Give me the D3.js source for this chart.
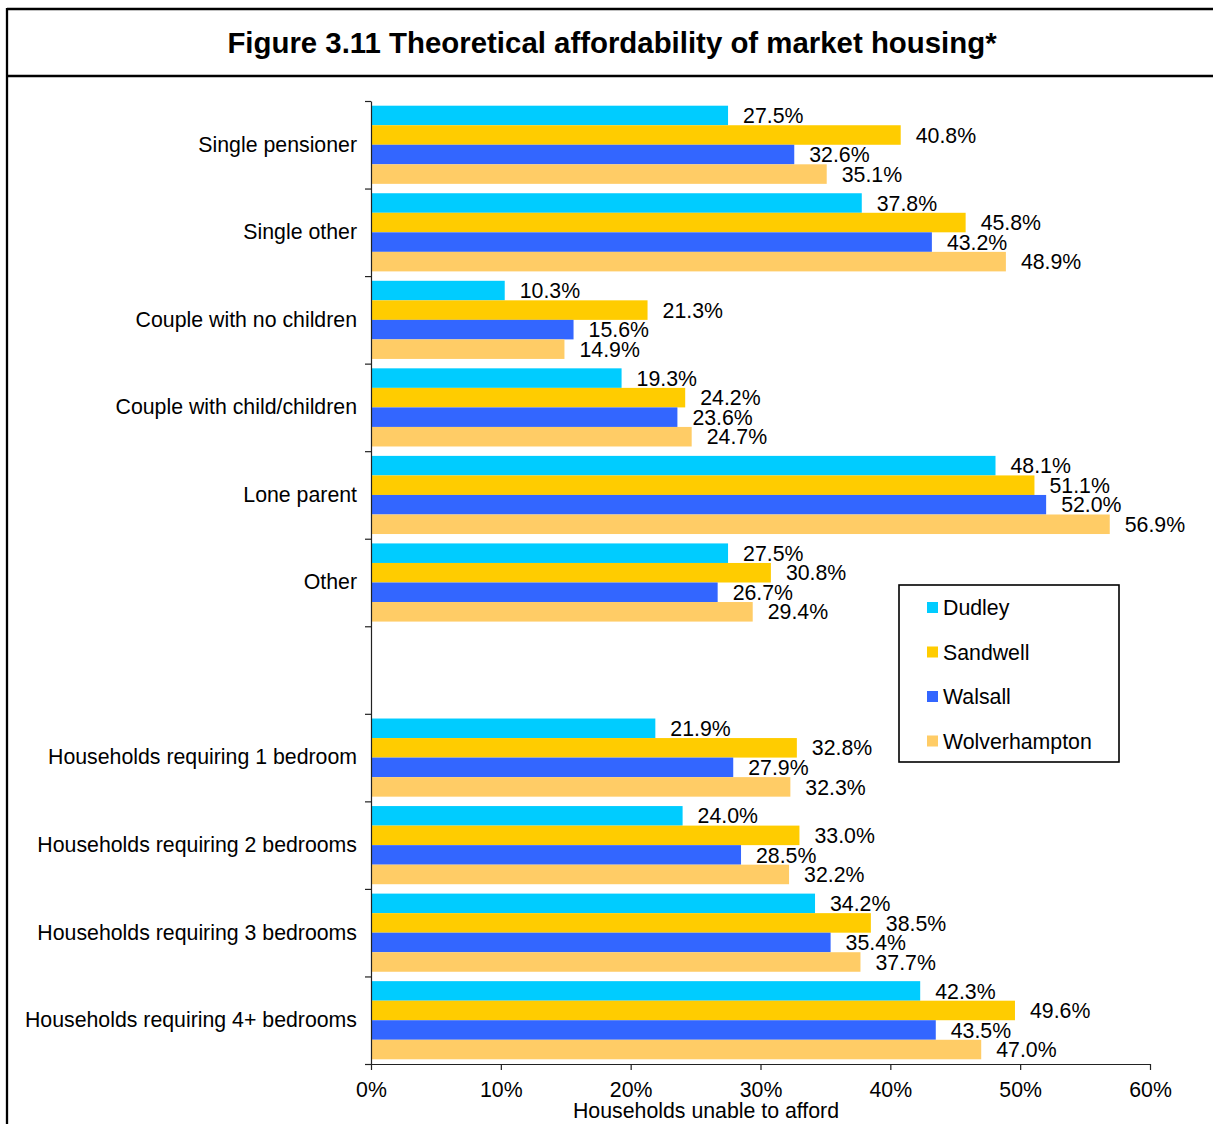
<!DOCTYPE html>
<html>
<head>
<meta charset="utf-8">
<script src="https://cdn.jsdelivr.net/npm/d3@7"></script>
<style>
  html, body { margin: 0; padding: 0; background: #fff; }
  svg { display: block; }
  text { font-family: Arial, "Liberation Sans", sans-serif; fill: #000; }
</style>
</head>
<body>
<svg id="chart" width="1213" height="1124"></svg>
<script>
const title = "Figure 3.11 Theoretical affordability of market housing*";
const categories = ["Single pensioner","Single other","Couple with no children","Couple with child/children","Lone parent","Other","","Households requiring 1 bedroom","Households requiring 2 bedrooms","Households requiring 3 bedrooms","Households requiring 4+ bedrooms"];
const seriesNames = ["Dudley","Sandwell","Walsall","Wolverhampton"];
const seriesColors = ["#00CCFF","#FFCC00","#3366FF","#FFCC66"];
const dudley = [27.5,37.8,10.3,19.3,48.1,27.5,null,21.9,24.0,34.2,42.3];
const sandwell = [40.8,45.8,21.3,24.2,51.1,30.8,null,32.8,33.0,38.5,49.6];
const walsall = [32.6,43.2,15.6,23.6,52.0,26.7,null,27.9,28.5,35.4,43.5];
const wolverhampton = [35.1,48.9,14.9,24.7,56.9,29.4,null,32.3,32.2,37.7,47.0];
const xTicks = [0,10,20,30,40,50,60];
const xAxisTitle = "Households unable to afford";

const seriesValues = [dudley, sandwell, walsall, wolverhampton];
const FS = "21.3px";

const svg = d3.select("#chart");
const W = 1213, H = 1124;
const plot = {left: 371, right: 1150, top: 101, bottom: 1064};

// frame
svg.append("line").attr("x1",7).attr("x2",W+5).attr("y1",9).attr("y2",9).attr("stroke","#000").attr("stroke-width",2.3);
svg.append("line").attr("x1",7).attr("x2",W+5).attr("y1",76).attr("y2",76).attr("stroke","#000").attr("stroke-width",2.3);
svg.append("line").attr("x1",7).attr("x2",7).attr("y1",8).attr("y2",H+5).attr("stroke","#000").attr("stroke-width",2.3);

svg.append("text").attr("x",612).attr("y",53).attr("text-anchor","middle")
  .style("font-size","29.4px").style("font-weight","bold").text(title);

const x = d3.scaleLinear().domain([0,60]).range([plot.left, plot.right]);
const idx = d3.range(categories.length);
const y = d3.scaleBand().domain(idx).range([plot.top, plot.bottom]).padding(0);
const pad = 4.7;
const yInner = d3.scaleBand().domain(d3.range(seriesNames.length)).range([pad, y.bandwidth()-pad]).padding(0);
const yLin = d3.scaleLinear().domain([0, categories.length]).range([plot.top, plot.bottom]);

// bars
const rows = [];
idx.forEach(i => seriesValues.forEach((vals, s) => {
  if (vals[i] != null) rows.push({i, s, v: vals[i]});
}));

svg.append("g").selectAll("rect").data(rows).join("rect")
  .attr("x", x(0))
  .attr("y", d => y(d.i) + yInner(d.s))
  .attr("width", d => x(d.v) - x(0))
  .attr("height", yInner.bandwidth())
  .attr("fill", d => seriesColors[d.s]);

svg.append("g").selectAll("text").data(rows).join("text")
  .attr("x", d => x(d.v) + 15)
  .attr("y", d => y(d.i) + yInner(d.s) + yInner.bandwidth()/2)
  .attr("dy", "0.36em")
  .style("font-size",FS)
  .text(d => d.v.toFixed(1) + "%");

// y axis boundary ticks
const gyt = svg.append("g").attr("transform",`translate(${plot.left},0)`)
  .call(d3.axisLeft(yLin).tickValues(d3.range(categories.length+1)).tickFormat("").tickSize(6).tickSizeOuter(0));
gyt.selectAll("line, path").attr("stroke","#222").attr("stroke-width",1.2);

// y axis labels
const gy = svg.append("g").attr("transform",`translate(${plot.left},0)`)
  .call(d3.axisLeft(y).tickFormat(i => categories[i]).tickSize(0).tickPadding(14));
gy.select(".domain").remove();
gy.selectAll("text").style("font-size",FS).attr("fill","#000").style("font-family","Arial, 'Liberation Sans', sans-serif");

// x axis
const gx = svg.append("g").attr("transform",`translate(0,${plot.bottom})`)
  .call(d3.axisBottom(x).tickValues(xTicks).tickFormat(d => d + "%").tickSize(6).tickSizeOuter(0).tickPadding(12));
gx.selectAll("line, path").attr("stroke","#222").attr("stroke-width",1.2);
gx.selectAll("text").style("font-size",FS).attr("fill","#000").style("font-family","Arial, 'Liberation Sans', sans-serif");

svg.append("text").attr("x",706).attr("y",1118).attr("text-anchor","middle")
  .style("font-size",FS).text(xAxisTitle);

// legend
const lg = svg.append("g");
lg.append("rect").attr("x",899).attr("y",585).attr("width",220).attr("height",177)
  .attr("fill","#fff").attr("stroke","#000").attr("stroke-width",1.6);
const ly = d3.scalePoint().domain(seriesNames).range([607.5, 741]);
const items = lg.selectAll("g.item").data(seriesNames).join("g").attr("class","item");
items.append("rect").attr("x",927).attr("y",d => ly(d)-5.5).attr("width",11).attr("height",11)
  .attr("fill",(d,i) => seriesColors[i]);
items.append("text").attr("x",943).attr("y",d => ly(d)).attr("dy","0.36em")
  .style("font-size",FS).text(d => d);
</script>
</body>
</html>
